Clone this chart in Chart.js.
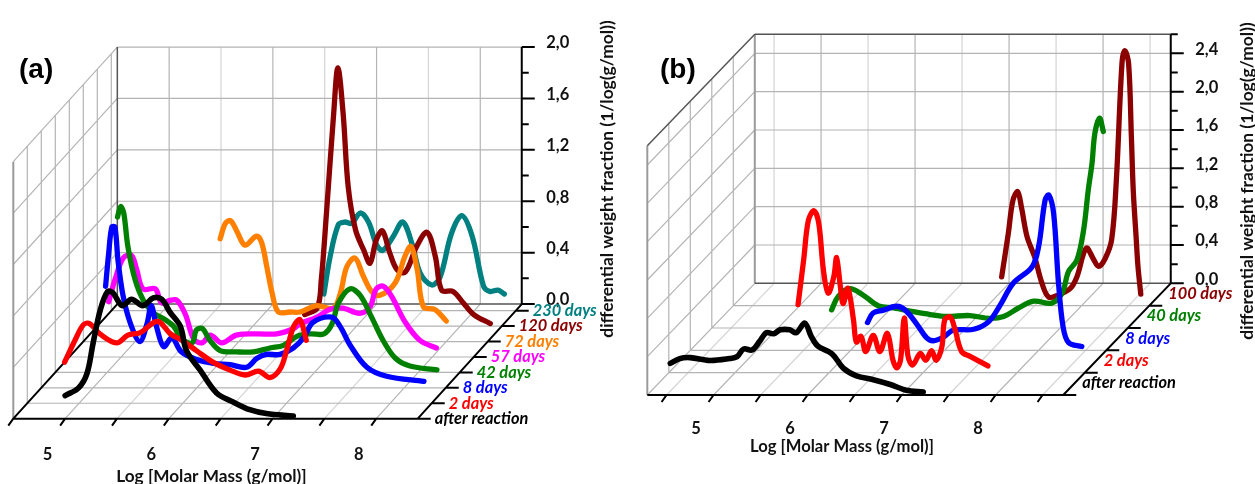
<!DOCTYPE html>
<html lang="en">
<head>
    <meta charset="UTF-8">
    <title>Molar mass distributions</title>
    <script src="https://cdn.jsdelivr.net/npm/chart.js"></script>
    <style>
        body { margin: 0; background: #fff; }
        canvas { position: absolute; top: 0; }
    </style>
</head>
<body>
    <canvas id="chartA" width="627" height="484" style="left:0"></canvas>
    <canvas id="chartB" width="628" height="484" style="left:627px"></canvas>
    <script>
    // ---- data: log molar mass / weight fraction ----
    const massTicks = [5, 6, 7, 8];
    const valueTicksA = [0, 0.4, 0.8, 1.2, 1.6, 2.0];
    const valueTicksB = [0, 0.4, 0.8, 1.2, 1.6, 2.0, 2.4];

    // panel (a)
    const labelsA = ['after reaction', '2 days', '8 days', '42 days', '57 days', '72 days', '120 days', '230 days'];
    const colorsA = ['#000000', '#ff0000', '#0000ff', '#008000', '#ff00ff', '#ff8000', '#8b0000', '#008080'];

    const massA0 = [5.0, 5.13, 5.21, 5.27, 5.34, 5.41, 5.46, 5.55, 5.64, 5.75, 5.85, 5.93, 6.01, 6.11, 6.17, 6.3, 6.46, 6.62, 6.78, 6.94, 7.2];
    const valA0 = [0.18, 0.24, 0.35, 0.59, 0.85, 0.99, 0.98, 0.88, 0.93, 0.88, 0.94, 0.93, 0.83, 0.72, 0.53, 0.38, 0.2, 0.13, 0.07, 0.04, 0.02];

    const massA1 = [4.86, 4.96, 5.04, 5.1, 5.2, 5.36, 5.47, 5.59, 5.72, 5.78, 5.88, 5.99, 6.13, 6.29, 6.45, 6.6, 6.73, 6.84, 6.94, 7.0, 7.07, 7.13, 7.19];
    const valA1 = [0.32, 0.49, 0.61, 0.62, 0.54, 0.47, 0.53, 0.55, 0.63, 0.63, 0.54, 0.49, 0.41, 0.32, 0.26, 0.22, 0.25, 0.2, 0.27, 0.41, 0.6, 0.65, 0.49];

    const massA2 = [5.12, 5.15, 5.18, 5.21, 5.24, 5.29, 5.36, 5.45, 5.52, 5.56, 5.61, 5.68, 5.76, 5.85, 6.0, 6.16, 6.32, 6.48, 6.58, 6.67, 6.8, 6.93, 7.03, 7.12, 7.3, 7.38, 7.48, 7.64, 7.83, 8.19];
    const valA2 = [0.79, 1.05, 1.25, 1.25, 0.99, 0.71, 0.5, 0.36, 0.5, 0.64, 0.48, 0.32, 0.39, 0.28, 0.22, 0.19, 0.18, 0.16, 0.23, 0.26, 0.26, 0.31, 0.39, 0.51, 0.55, 0.48, 0.33, 0.16, 0.09, 0.05];

    const massA3 = [5.1, 5.13, 5.16, 5.2, 5.27, 5.35, 5.45, 5.54, 5.64, 5.72, 5.82, 5.86, 5.92, 5.99, 6.09, 6.25, 6.41, 6.57, 6.7, 6.83, 6.96, 7.09, 7.17, 7.23, 7.34, 7.44, 7.55, 7.66, 7.78, 7.92, 8.18];
    const valA3 = [1.21, 1.29, 1.24, 0.98, 0.72, 0.56, 0.46, 0.42, 0.36, 0.26, 0.23, 0.33, 0.34, 0.25, 0.17, 0.16, 0.16, 0.19, 0.21, 0.28, 0.3, 0.3, 0.38, 0.54, 0.65, 0.6, 0.43, 0.25, 0.11, 0.05, 0.02];

    const massA4 = [4.88, 4.94, 5.02, 5.1, 5.15, 5.21, 5.33, 5.39, 5.47, 5.54, 5.62, 5.7, 5.78, 5.86, 5.97, 6.11, 6.31, 6.5, 6.66, 6.73, 6.89, 7.01, 7.14, 7.3, 7.4, 7.46, 7.53, 7.61, 7.74, 7.88, 8.04];
    const valA4 = [0.43, 0.6, 0.77, 0.79, 0.68, 0.53, 0.53, 0.42, 0.44, 0.44, 0.33, 0.14, 0.11, 0.17, 0.11, 0.17, 0.18, 0.18, 0.22, 0.26, 0.31, 0.37, 0.38, 0.34, 0.39, 0.53, 0.55, 0.47, 0.27, 0.13, 0.07];

    const massA5 = [5.82, 5.87, 5.92, 5.98, 6.06, 6.17, 6.22, 6.27, 6.32, 6.38, 6.49, 6.59, 6.75, 6.91, 6.98, 7.04, 7.12, 7.2, 7.28, 7.36, 7.51, 7.6, 7.66, 7.72, 7.78, 7.89, 8.0];
    const valA5 = [0.8, 0.92, 0.94, 0.86, 0.75, 0.82, 0.77, 0.58, 0.38, 0.23, 0.23, 0.23, 0.28, 0.26, 0.38, 0.58, 0.65, 0.51, 0.39, 0.36, 0.46, 0.66, 0.74, 0.56, 0.27, 0.25, 0.16];

    const massA6 = [6.5, 6.62, 6.66, 6.71, 6.78, 6.82, 6.87, 6.92, 6.99, 7.07, 7.13, 7.19, 7.25, 7.32, 7.39, 7.47, 7.58, 7.68, 7.76, 7.82, 7.93, 8.03, 8.13, 8.29];
    const valA6 = [0.09, 0.14, 0.36, 0.88, 1.66, 2.01, 1.66, 1.08, 0.75, 0.59, 0.49, 0.67, 0.74, 0.57, 0.44, 0.42, 0.62, 0.73, 0.54, 0.28, 0.27, 0.18, 0.09, 0.02];

    const massA7 = [6.55, 6.61, 6.69, 6.75, 6.82, 6.9, 6.98, 7.06, 7.12, 7.22, 7.31, 7.4, 7.48, 7.59, 7.67, 7.78, 7.88, 7.98, 8.09, 8.15, 8.23, 8.29];
    const valA7 = [0.13, 0.42, 0.67, 0.69, 0.68, 0.76, 0.69, 0.51, 0.47, 0.58, 0.69, 0.52, 0.29, 0.2, 0.26, 0.6, 0.74, 0.58, 0.19, 0.15, 0.16, 0.13];

    // panel (b)
    const labelsB = ['after reaction', '2 days', '8 days', '40 days', '100 days'];
    const colorsB = ['#000000', '#ff0000', '#0000ff', '#008000', '#8b0000'];

    const massB0 = [4.54, 4.64, 4.75, 4.96, 5.17, 5.25, 5.32, 5.41, 5.49, 5.56, 5.64, 5.71, 5.81, 5.88, 5.97, 6.04, 6.11, 6.26, 6.38, 6.52, 6.7, 6.88, 7.05, 7.23];
    const valB0 = [0.33, 0.38, 0.39, 0.36, 0.38, 0.4, 0.48, 0.47, 0.56, 0.65, 0.64, 0.68, 0.68, 0.65, 0.75, 0.61, 0.51, 0.43, 0.28, 0.2, 0.16, 0.11, 0.05, 0.03];

    const massB1 = [5.67, 5.73, 5.78, 5.84, 5.89, 5.94, 5.99, 6.05, 6.08, 6.12, 6.15, 6.2, 6.26, 6.29, 6.34, 6.39, 6.47, 6.54, 6.62, 6.68, 6.72, 6.76, 6.8, 6.84, 6.89, 6.97, 7.03, 7.09, 7.14, 7.2, 7.23, 7.29, 7.34, 7.41, 7.5, 7.69];
    const valB1 = [0.71, 1.18, 1.59, 1.69, 1.56, 1.07, 0.83, 1.0, 1.2, 0.9, 0.72, 0.88, 0.55, 0.32, 0.38, 0.22, 0.39, 0.22, 0.41, 0.13, 0.05, 0.13, 0.57, 0.17, 0.08, 0.2, 0.13, 0.23, 0.13, 0.27, 0.55, 0.58, 0.45, 0.22, 0.17, 0.07];

    const massB2 = [6.18, 6.24, 6.35, 6.49, 6.58, 6.7, 6.81, 6.88, 6.99, 7.09, 7.31, 7.47, 7.59, 7.73, 7.93, 8.0, 8.07, 8.11, 8.16, 8.21, 8.26, 8.32, 8.46];
    const valB2 = [0.29, 0.39, 0.42, 0.46, 0.42, 0.28, 0.13, 0.1, 0.14, 0.21, 0.22, 0.3, 0.47, 0.7, 0.87, 1.08, 1.57, 1.62, 1.43, 0.73, 0.25, 0.08, 0.04];

    const massB3 = [5.57, 5.64, 5.76, 5.91, 6.07, 6.23, 6.44, 6.62, 6.79, 7.04, 7.25, 7.4, 7.56, 7.72, 7.91, 8.02, 8.09, 8.18, 8.25, 8.3, 8.34, 8.37, 8.42, 8.46];
    const valB3 = [0.19, 0.33, 0.41, 0.34, 0.23, 0.21, 0.17, 0.14, 0.12, 0.13, 0.1, 0.12, 0.21, 0.28, 0.26, 0.36, 0.59, 0.71, 1.02, 1.44, 1.72, 2.03, 2.19, 2.05];

    const massB4 = [7.15, 7.22, 7.27, 7.32, 7.36, 7.42, 7.5, 7.58, 7.65, 7.75, 7.88, 7.95, 8.05, 8.13, 8.18, 8.25, 8.32, 8.37, 8.43, 8.46, 8.5, 8.53, 8.55, 8.58, 8.6, 8.63];
    const valB4 = [0.3, 0.75, 1.1, 1.19, 1.03, 0.72, 0.51, 0.23, 0.09, 0.11, 0.18, 0.3, 0.6, 0.48, 0.41, 0.49, 0.69, 1.31, 2.53, 2.66, 2.53, 1.76, 1.2, 0.72, 0.41, 0.12];

    const FONT = 'Lato, sans-serif';
    const AXIS_TITLE_X = 'Log [Molar Mass (g/mol)]';
    const AXIS_TITLE_Y = 'differential weight fraction (1/log(g/mol))';

    // builds one waterfall panel: depth is sheared onto the x/y scales
    function makePanel(id, cfg) {
        const g = cfg.geom;
        const shiftX = d => d * g.stepX / g.pxLog;
        const shiftY = d => d * g.stepY / g.pxVal;
        const pt = (m, d, v) => ({ x: m + shiftX(d), y: v + shiftY(d) });

        function seg(list, a, b) {
            list.push(pt(a[0], a[1], a[2]), pt(b[0], b[1], b[2]), { x: null, y: null });
        }

        const light = [], grid = [], edge = [], dark = [], black = [];
        const D = g.depthMax, M0 = g.mMin, M1 = g.mMax, top = g.vMax;

        // mass lines, back wall and floor
        for (let m = 4.5; m < M1; m += 0.5) {
            const list = Number.isInteger(m) ? grid : light;
            if (m > M0) seg(list, [m, D, 0], [m, D, top]);
            if (m > M0) seg(list, [m, 0, 0], [m, D, 0]);
            seg(black, [m, 0, 0], [m - 5 / g.pxLog, 0, -7 / g.pxVal]);
        }
        // value lines, back wall and left wall
        for (const v of cfg.valueTicks) {
            if (v > 0) {
                seg(grid, [M0, D, v], [M1, D, v]);
                seg(grid, [M0, 0, v], [M0, D, v]);
            }
        }
        // depth lines, left wall and floor
        for (let d = 1; d < cfg.series.length; d++) {
            seg(grid, [M0, d, 0], [M0, d, top]);
            seg(grid, [M0, d, 0], [M1, d, 0]);
            seg(black, [M1, d, 0], [M1 + 13 / g.pxLog, d, 0]);
        }
        // frame
        seg(edge, [M0, 0, 0], [M0, 0, top]);
        seg(dark, [M0, D, 0], [M1, D, 0]);
        seg(cfg.darkTop ? dark : grid, [M0, D, top], [M1, D, top]);
        seg(cfg.darkTop ? dark : grid, [M0, 0, top], [M0, D, top]);
        seg(cfg.darkTop ? edge : dark, [M0, D, 0], [M0, D, top]);
        seg(cfg.darkTop ? grid : black, [M0, 0, 0], [M0, D, 0]);
        seg(black, [M0, 0, 0], [M1, 0, 0]);
        seg(black, [M1, 0, 0], [M1 + 13 / g.pxLog, 0, 0]);
        seg(black, [M1, 0, 0], [M1, D, 0]);
        seg(black, [M1, D, 0], [M1, D, top]);
        // value axis ticks
        for (let k = 0; k * 0.2 <= top + 0.001; k++) {
            const len = k % 2 === 0 ? 13 : 7;
            seg(black, [M1, D, k * 0.2], [M1 + len / g.pxLog, D, k * 0.2]);
        }

        const datasets = cfg.series.map((s, i) => ({
            data: s.mass.map((m, j) => pt(m, i, s.val[j])),
            showLine: true,
            borderColor: cfg.colors[i],
            borderWidth: i === 0 ? 5.6 : 5.3,
            borderCapStyle: 'round',
            borderJoinStyle: 'round',
            tension: 0.35,
            pointRadius: 0
        }));
        const addLines = (data, color, width) => datasets.push({
            data, showLine: true, borderColor: color, borderWidth: width, pointRadius: 0, spanGaps: false
        });
        addLines(black, '#000000', 2);
        addLines(dark, '#555555', 1.5);
        addLines(edge, '#9a9a9a', 2);
        addLines(grid, '#b4b4b4', 1.2);
        addLines(light, '#d4d4d4', 1.2);

        const textPlugin = {
            id: 'panelText',
            afterDraw(chart) {
                const ctx = chart.ctx, xs = chart.scales.x, ys = chart.scales.y;
                const text = (s, x, y, font, color, align) => {
                    ctx.font = font;
                    ctx.fillStyle = color;
                    ctx.textAlign = align || 'left';
                    ctx.textBaseline = 'middle';
                    ctx.fillText(s, x, y);
                };
                ctx.save();
                const right = xs.getPixelForValue(M1 + shiftX(D));
                for (const v of cfg.valueTicks) {
                    text(v.toFixed(1).replace('.', ','), right + 24.5, ys.getPixelForValue(v + shiftY(D)) - 4, 'bold 16.5px ' + FONT, '#111');
                }
                for (const m of massTicks) {
                    text(String(m), xs.getPixelForValue(m) - 17.5, cfg.massLabelY, 'bold 16.5px ' + FONT, '#111', 'center');
                }
                text(AXIS_TITLE_X, cfg.titleX, cfg.massLabelY + cfg.titleGap, 'bold ' + cfg.titleSize + 'px ' + FONT, '#111', 'center');
                cfg.labels.forEach((s, i) => {
                    text(s, xs.getPixelForValue(M1 + shiftX(i)) + cfg.labelDx, ys.getPixelForValue(shiftY(i)) + cfg.labelDy, 'italic bold 16.4px ' + FONT, cfg.colors[i]);
                });
                text(cfg.tag, cfg.tagX, 70, 'bold 28px "Liberation Sans", Arial, sans-serif', '#000');
                ctx.translate(cfg.yTitleX, cfg.yTitleY);
                ctx.rotate(-Math.PI / 2);
                text(AXIS_TITLE_Y, 0, 0, 'bold 17.4px ' + FONT, '#111', 'center');
                ctx.restore();
            }
        };

        const canvas = document.getElementById(id);
        return new Chart(canvas.getContext('2d'), {
            type: 'scatter',
            data: { datasets },
            plugins: [textPlugin],
            options: {
                responsive: false,
                animation: false,
                layout: { padding: 0 },
                plugins: { legend: { display: false }, tooltip: { enabled: false } },
                scales: {
                    x: {
                        type: 'linear',
                        display: false,
                        min: M0 - (g.front - g.left) / g.pxLog,
                        max: M0 + (g.left + canvas.width - g.front) / g.pxLog
                    },
                    y: {
                        type: 'linear',
                        display: false,
                        min: (g.base - canvas.height) / g.pxVal,
                        max: g.base / g.pxVal
                    }
                }
            }
        });
    }

    makePanel('chartA', {
        geom: { left: 0, front: 13.3, base: 418.7, pxLog: 103.7, pxVal: 128.5, stepX: 14, stepY: 15.43, depthMax: 7.43, mMin: 4.5, mMax: 8.4, vMax: 2.0 },
        valueTicks: valueTicksA,
        labels: labelsA,
        colors: colorsA,
        series: [
            { mass: massA0, val: valA0 }, { mass: massA1, val: valA1 }, { mass: massA2, val: valA2 }, { mass: massA3, val: valA3 },
            { mass: massA4, val: valA4 }, { mass: massA5, val: valA5 }, { mass: massA6, val: valA6 }, { mass: massA7, val: valA7 }
        ],
        darkTop: false,
        massLabelY: 455,
        titleX: 211.5,
        titleSize: 17.2,
        titleGap: 21,
        labelDx: 17,
        labelDy: 0,
        tag: '(a)',
        tagX: 19,
        yTitleX: 607,
        yTitleY: 179
    });

    makePanel('chartB', {
        geom: { left: 627, front: 647.3, base: 395, pxLog: 94, pxVal: 95.83, stepX: 21.5, stepY: 22.33, depthMax: 5, mMin: 4.295, mMax: 8.72, vMax: 2.6 },
        valueTicks: valueTicksB,
        labels: labelsB,
        colors: colorsB,
        series: [
            { mass: massB0, val: valB0 }, { mass: massB1, val: valB1 }, { mass: massB2, val: valB2 },
            { mass: massB3, val: valB3 }, { mass: massB4, val: valB4 }
        ],
        darkTop: true,
        massLabelY: 429,
        titleX: 842 - 627,
        titleSize: 16.6,
        titleGap: 18,
        labelDx: 19,
        labelDy: -12,
        tag: '(b)',
        tagX: 660 - 627,
        yTitleX: 1247 - 627,
        yTitleY: 181
    });
    </script>
</body>
</html>
